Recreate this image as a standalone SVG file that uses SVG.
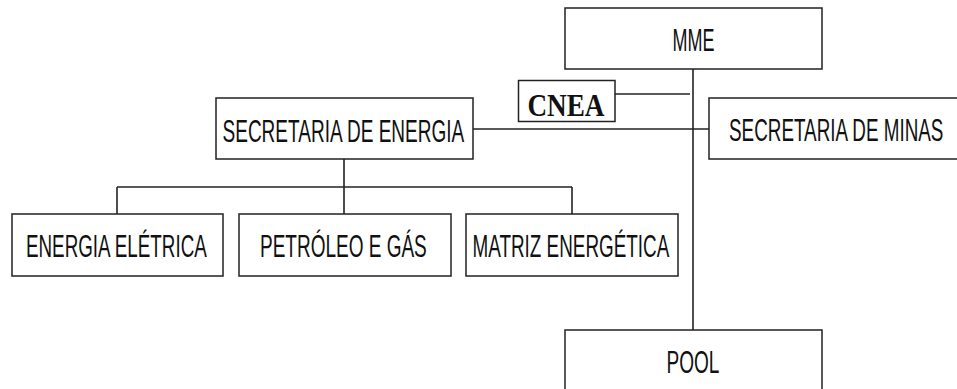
<svg xmlns="http://www.w3.org/2000/svg" width="957" height="389" viewBox="0 0 957 389">
<style>
.box{fill:#fff;stroke:#222;stroke-width:1.5}
.lbl{font-family:"Liberation Sans",Arial,sans-serif;font-size:32px;fill:#111}
.cnea{font-family:"Liberation Serif","Times New Roman",serif;font-size:31px;font-weight:bold;fill:#111}
.conn{stroke:#222;stroke-width:1.6;fill:none}
</style>
<rect width="957" height="389" fill="#fff"/>
<g id="connectors">
<line class="conn" x1="693" y1="69" x2="693" y2="330"/>
<line class="conn" x1="615" y1="94" x2="690" y2="94"/>
<line class="conn" x1="473" y1="129" x2="709" y2="129"/>
<line class="conn" x1="344" y1="159" x2="344" y2="214"/>
<line class="conn" x1="117" y1="187" x2="572" y2="187"/>
<line class="conn" x1="117" y1="187" x2="117" y2="214"/>
<line class="conn" x1="572" y1="187" x2="572" y2="214"/>
</g>
<g id="mme">
<rect class="box" x="565" y="8" width="257" height="61"/>
<text class="lbl" transform="translate(672.5,50.5) scale(0.563,1)">MME</text>
</g>
<g id="cnea">
<rect class="box" x="518.5" y="80.5" width="96.5" height="41"/>
<text class="cnea" transform="translate(527.5,115.5) scale(0.877,1)">CNEA</text>
</g>
<g id="sec-energia">
<rect class="box" x="216" y="98" width="257" height="61"/>
<text class="lbl" transform="translate(222.5,141.5) scale(0.595,1)">SECRETARIA DE ENERGIA</text>
</g>
<g id="sec-minas">
<rect class="box" x="709" y="98" width="260" height="61"/>
<text class="lbl" transform="translate(729,141) scale(0.5895,1)">SECRETARIA DE MINAS</text>
</g>
<g id="energia-eletrica">
<rect class="box" x="12" y="214" width="211" height="62"/>
<text class="lbl" transform="translate(26,257) scale(0.588,1)">ENERGIA ELÉTRICA</text>
</g>
<g id="petroleo-gas">
<rect class="box" x="239" y="214" width="212" height="62"/>
<text class="lbl" transform="translate(260,257) scale(0.594,1)">PETRÓLEO E GÁS</text>
</g>
<g id="matriz">
<rect class="box" x="466" y="214" width="212" height="62"/>
<text class="lbl" transform="translate(472.5,257) scale(0.59,1)">MATRIZ ENERGÉTICA</text>
</g>
<g id="pool">
<rect class="box" x="565" y="330" width="257" height="70"/>
<text class="lbl" transform="translate(666.5,372.5) scale(0.596,1)">POOL</text>
</g>
</svg>
